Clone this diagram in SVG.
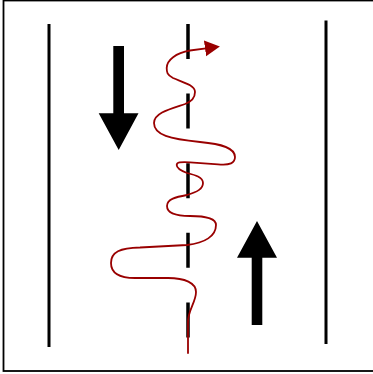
<svg xmlns="http://www.w3.org/2000/svg" width="373" height="374" viewBox="0 0 373 374">
<style>
.lane{stroke:#000;stroke-width:3;fill:none}
.dash{stroke:#000;stroke-width:3.5;fill:none;stroke-dasharray:35 34.6}
.big{fill:#000;stroke:none}
.wave{stroke:#990000;stroke-width:1.8;fill:none;stroke-linecap:round}
</style>
<defs>
<marker id="ah" markerUnits="userSpaceOnUse" markerWidth="16" markerHeight="18" refX="1" refY="8" orient="auto">
<path d="M0,0 L15,8 L0,16 Z" fill="#990000"/>
</marker>
</defs>
<rect x="3.5" y="0.5" width="372" height="370.5" fill="#fff" stroke="#000" stroke-width="1.8"/>
<g id="lane-left"><line class="lane" x1="49" y1="24" x2="49" y2="347"/></g>
<g id="lane-right"><line class="lane" x1="326" y1="20.5" x2="326" y2="344"/></g>
<g id="center-line"><line class="dash" x1="188" y1="24" x2="188" y2="338"/></g>
<g id="arrow-down"><path class="big" d="M113.3,46 H124 V113.3 H138.5 L118.7,150 L98.7,113.3 H113.3 Z"/></g>
<g id="arrow-up"><path class="big" d="M251.7,325 H262.3 V257.7 H277 L257,221 L237,257.7 H251.7 Z"/></g>
<g id="connectors">
<path class="wave" marker-end="url(#ah)" d="M188,353 L188,322 C188,310 196,302 196,292 C196,283 185,278 168,278 L135,278 C118,278 111,273 111,263 C111,252 120,248 140,247.5 L187,245 C205,243 216,236 216,225 C216,219 208,216 190,216 C175,216 167,213 167,206 C167,199 176,197 187,195 C197,192 203,189 203,183 C203,177 195,175 187,173 C179,170 176.7,168 176.7,165 C176.7,162 180,162 190,162.3 L218,164.3 C230,165.5 235,163 235,157 C235,148 222,144 200,142 C170,139 154,135 154,123 C154,113 170,109 185,104 C193,101 195,97 195,92 C195,85 182,82 173,78 C167,75 166.7,72 166.7,68 C166.7,60 176,53 190,50.5 L206,48.3"/>
</g>
</svg>
